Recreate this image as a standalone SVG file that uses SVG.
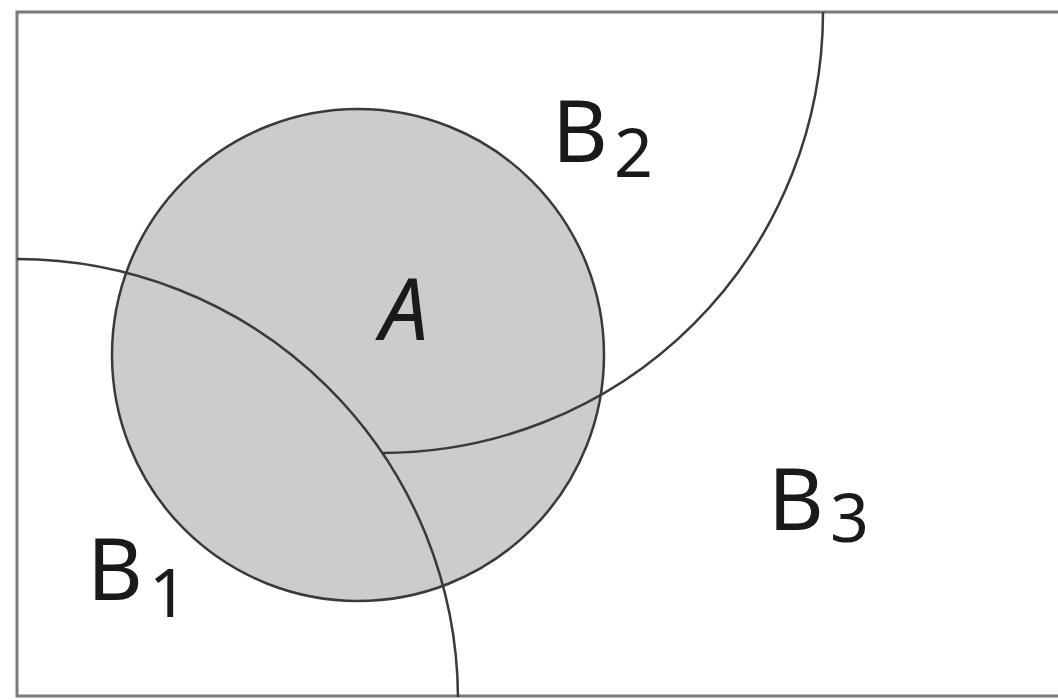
<svg xmlns="http://www.w3.org/2000/svg" width="1058" height="700" viewBox="0 0 1058 700">
<style>
.frame{fill:none;stroke:#7a7a7a;stroke-width:3}
.region{fill:none;stroke:#3a3a3a;stroke-width:2.5}
.lbl{font-family:"Noto Sans","DejaVu Sans",sans-serif;fill:#1a1a1a;font-size:86px}
.sub{font-size:68px}
</style>
<rect width="1058" height="700" fill="#ffffff"/>
<g id="frame"><rect class="frame" x="17" y="12" width="1060" height="684"/></g>
<g id="A"><circle cx="358" cy="355" r="246" fill="#cccccc" stroke="#3a3a3a" stroke-width="2.5"/>
<text class="lbl" x="380" y="340" font-size="90" font-style="italic">A</text></g>
<g id="connectors">
<path class="region" d="M17,259 A441,441 0 0 1 458,697"/>
<path class="region" d="M823,12 A441,441 0 0 1 382,453"/>
</g>
<g id="B1"><text class="lbl" x="87" y="600">B<tspan class="sub" dx="6" dy="17">1</tspan></text></g>
<g id="B2"><text class="lbl" x="552" y="162">B<tspan class="sub" dx="6" dy="15">2</tspan></text></g>
<g id="B3"><text class="lbl" x="768" y="530">B<tspan class="sub" dx="6" dy="12">3</tspan></text></g>
</svg>
